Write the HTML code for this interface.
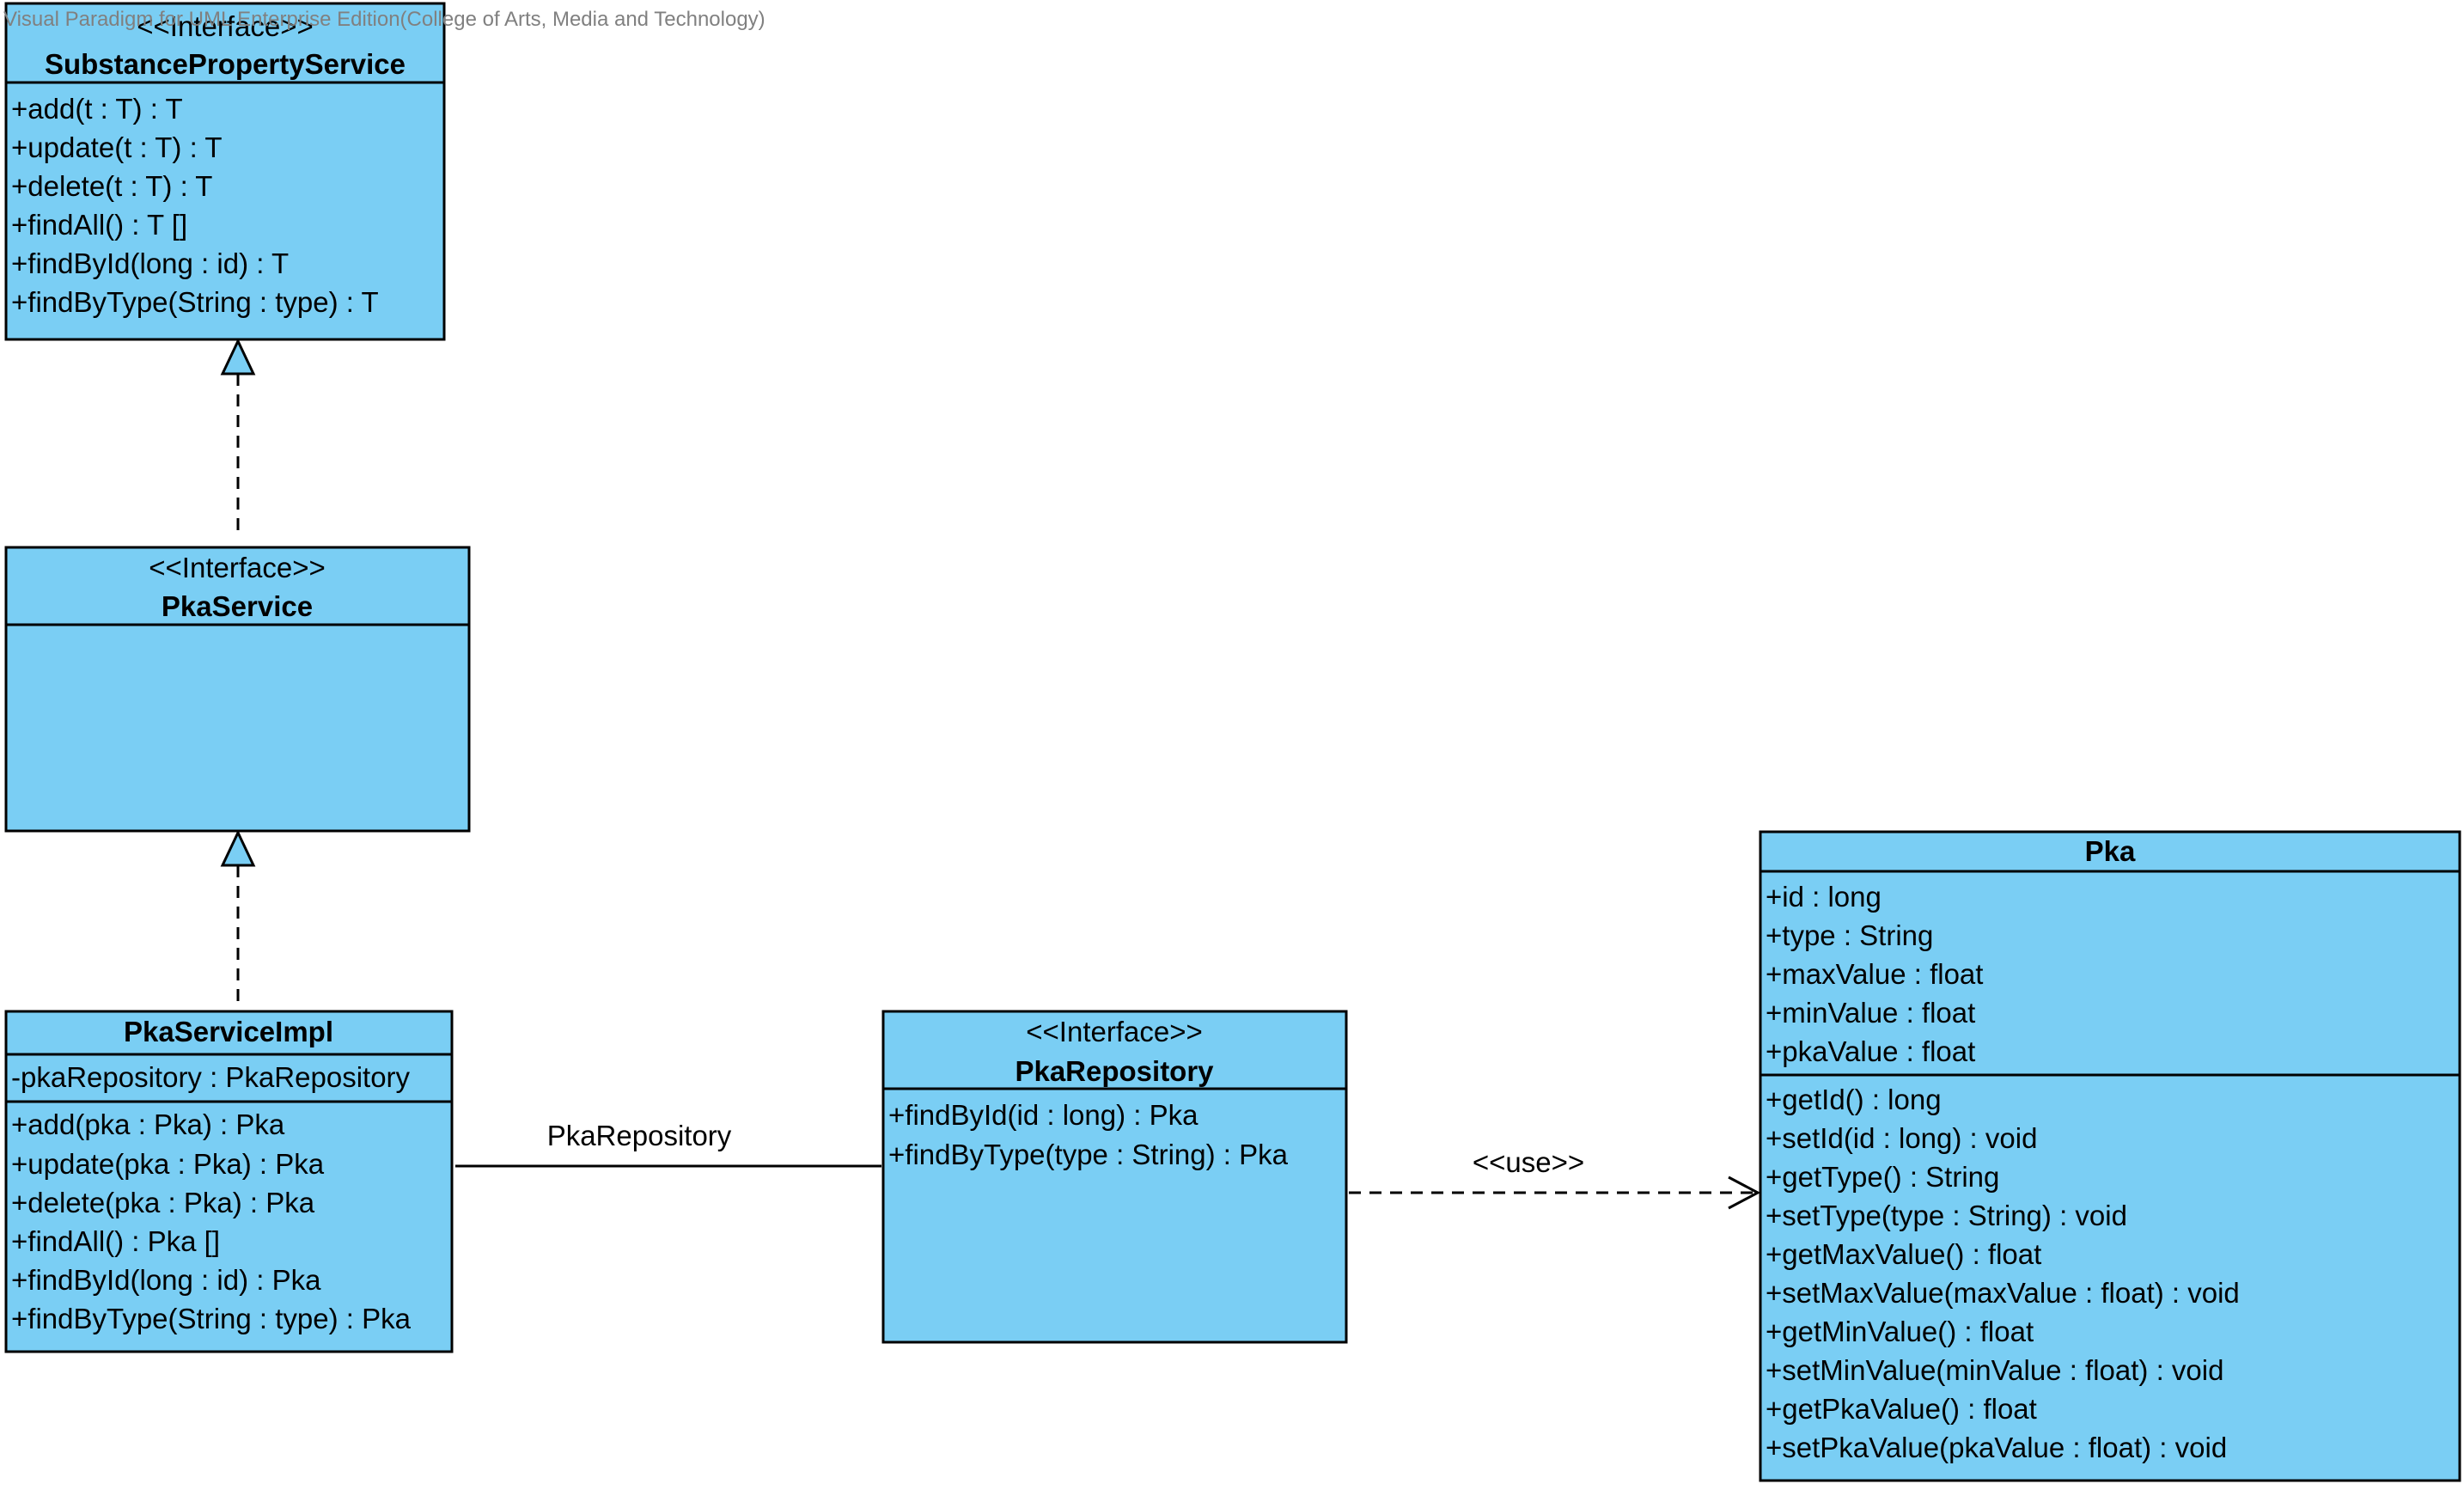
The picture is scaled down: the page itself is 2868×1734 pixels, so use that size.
<!DOCTYPE html>
<html><head><meta charset="utf-8"><style>
body{margin:0;background:#fff;}
svg{display:block;}
text{font-family:"Liberation Sans",Arial,sans-serif;font-size:33px;fill:#000;}
.b{font-weight:bold;}
.m{text-anchor:middle;}
</style></head><body>
<svg width="2868" height="1734" viewBox="0 0 2868 1734" xmlns="http://www.w3.org/2000/svg">
<g transform="translate(0,-1)">
<g fill="#7acef4" stroke="#000" stroke-width="3">
<rect x="7" y="5" width="510" height="391"/>
<rect x="7" y="638" width="539" height="330"/>
<rect x="7" y="1178" width="519" height="396"/>
<rect x="1028" y="1178" width="539" height="385"/>
<rect x="2049" y="969" width="814" height="755"/>
</g>
<g stroke="#000" stroke-width="3">
<line x1="7" y1="97" x2="517" y2="97"/>
<line x1="7" y1="728" x2="546" y2="728"/>
<line x1="7" y1="1228" x2="526" y2="1228"/>
<line x1="7" y1="1283" x2="526" y2="1283"/>
<line x1="1028" y1="1268" x2="1567" y2="1268"/>
<line x1="2049" y1="1015" x2="2863" y2="1015"/>
<line x1="2049" y1="1252" x2="2863" y2="1252"/>
<line x1="530" y1="1358" x2="1026" y2="1358"/>
</g>
<g stroke="#000" stroke-width="3" stroke-dasharray="14,10" fill="none">
<line x1="277" y1="436" x2="277" y2="627"/>
<line x1="277" y1="1008" x2="277" y2="1166"/>
<line x1="1570" y1="1389" x2="2046" y2="1389"/>
</g>
<g fill="#7acef4" stroke="#000" stroke-width="3">
<polygon points="277,398 259,436 295,436"/>
<polygon points="277,970 259,1008 295,1008"/>
</g>
<polyline points="2012,1371 2046,1389 2012,1407" fill="none" stroke="#000" stroke-width="3"/>
<text class="m" x="262" y="43">&lt;&lt;Interface&gt;&gt;</text>
<text class="m b" x="262" y="87">SubstancePropertyService</text>
<text x="13" y="139">+add(t : T) : T</text>
<text x="13" y="184">+update(t : T) : T</text>
<text x="13" y="229">+delete(t : T) : T</text>
<text x="13" y="274">+findAll() : T []</text>
<text x="13" y="319">+findById(long : id) : T</text>
<text x="13" y="364">+findByType(String : type) : T</text>
<text class="m" x="276" y="673">&lt;&lt;Interface&gt;&gt;</text>
<text class="m b" x="276" y="718">PkaService</text>
<text class="m b" x="266" y="1213">PkaServiceImpl</text>
<text x="13" y="1266">-pkaRepository : PkaRepository</text>
<text x="13" y="1321">+add(pka : Pka) : Pka</text>
<text x="13" y="1367">+update(pka : Pka) : Pka</text>
<text x="13" y="1412">+delete(pka : Pka) : Pka</text>
<text x="13" y="1457">+findAll() : Pka []</text>
<text x="13" y="1502">+findById(long : id) : Pka</text>
<text x="13" y="1547">+findByType(String : type) : Pka</text>
<text class="m" x="744" y="1334">PkaRepository</text>
<text class="m" x="1297" y="1213">&lt;&lt;Interface&gt;&gt;</text>
<text class="m b" x="1297" y="1259">PkaRepository</text>
<text x="1034" y="1310">+findById(id : long) : Pka</text>
<text x="1034" y="1356">+findByType(type : String) : Pka</text>
<text class="m" x="1779" y="1365">&lt;&lt;use&gt;&gt;</text>
<text class="m b" x="2456" y="1003">Pka</text>
<text x="2055" y="1056">+id : long</text>
<text x="2055" y="1101">+type : String</text>
<text x="2055" y="1146">+maxValue : float</text>
<text x="2055" y="1191">+minValue : float</text>
<text x="2055" y="1236">+pkaValue : float</text>
<text x="2055" y="1292">+getId() : long</text>
<text x="2055" y="1337">+setId(id : long) : void</text>
<text x="2055" y="1382">+getType() : String</text>
<text x="2055" y="1427">+setType(type : String) : void</text>
<text x="2055" y="1472">+getMaxValue() : float</text>
<text x="2055" y="1517">+setMaxValue(maxValue : float) : void</text>
<text x="2055" y="1562">+getMinValue() : float</text>
<text x="2055" y="1607">+setMinValue(minValue : float) : void</text>
<text x="2055" y="1652">+getPkaValue() : float</text>
<text x="2055" y="1697">+setPkaValue(pkaValue : float) : void</text>
</g>
<text x="4" y="30" style="font-size:24px;fill:#808080">Visual Paradigm for UML Enterprise Edition(College of Arts, Media and Technology)</text>
</svg>
</body></html>
